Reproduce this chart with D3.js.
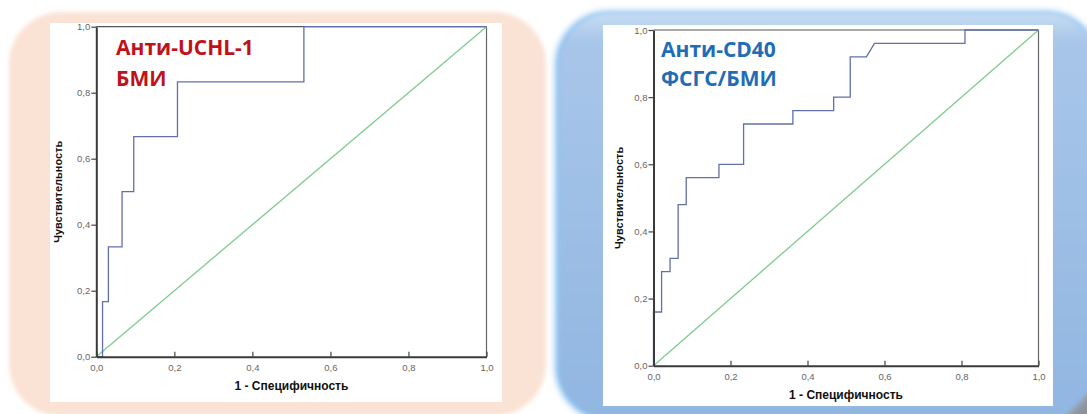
<!DOCTYPE html>
<html>
<head>
<meta charset="utf-8">
<script src="https://cdn.jsdelivr.net/npm/d3@7"></script>
<style>
  html, body { margin: 0; padding: 0; background: #ffffff; overflow: hidden; }
  svg { display: block; }
</style>
</head>
<body>
<svg id="chart" width="1087" height="414"></svg>
<script>
// Shared axis ticks and titles
const tickValues = [0, 0.2, 0.4, 0.6, 0.8, 1.0];
const tickLabels = ["0,0", "0,2", "0,4", "0,6", "0,8", "1,0"];
const xTitle = "1 - Специфичность";
const yTitle = "Чувствительность";

// ROC curve vertices: anti-UCHL-1, БМИ
const uchlTitle = ["Анти-UCHL-1", "БМИ"];
const uchlFpr = [0, 0.016, 0.016, 0.031, 0.031, 0.066, 0.066, 0.096, 0.096, 0.208, 0.208, 0.532, 0.532, 1];
const uchlTpr = [0, 0, 0.167, 0.167, 0.333, 0.333, 0.5, 0.5, 0.667, 0.667, 0.833, 0.833, 1, 1];

// ROC curve vertices: anti-CD40, ФСГС/БМИ
const cd40Title = ["Анти-CD40", "ФСГС/БМИ"];
const cd40Fpr = [0, 0, 0.021, 0.021, 0.043, 0.043, 0.064, 0.064, 0.085, 0.085, 0.170, 0.170, 0.234, 0.234,
                 0.362, 0.362, 0.468, 0.468, 0.511, 0.511, 0.553, 0.574, 0.809, 0.809, 1];
const cd40Tpr = [0, 0.16, 0.16, 0.28, 0.28, 0.32, 0.32, 0.48, 0.48, 0.56, 0.56, 0.60, 0.60, 0.72,
                 0.72, 0.76, 0.76, 0.80, 0.80, 0.92, 0.92, 0.96, 0.96, 1, 1];

// Reference (chance) diagonal
const chanceLine = [0, 1];

const svg = d3.select("#chart");
const defs = svg.append("defs");

defs.append("filter").attr("id", "soft").attr("x", "-10%").attr("y", "-10%").attr("width", "120%").attr("height", "120%")
  .append("feGaussianBlur").attr("stdDeviation", 2.2);
defs.append("filter").attr("id", "glow").attr("x", "-10%").attr("y", "-10%").attr("width", "120%").attr("height", "120%")
  .append("feGaussianBlur").attr("stdDeviation", 3);

const blueGrad = defs.append("linearGradient").attr("id", "blueFill")
  .attr("x1", 0).attr("y1", 0).attr("x2", 0).attr("y2", 1);
blueGrad.append("stop").attr("offset", "0%").attr("stop-color", "#c6dcf3");
blueGrad.append("stop").attr("offset", "7%").attr("stop-color", "#a8c6e9");
blueGrad.append("stop").attr("offset", "100%").attr("stop-color", "#91b6e1");

const shadowGrad = defs.append("linearGradient").attr("id", "shadowFill")
  .attr("x1", 0).attr("y1", 0).attr("x2", 1).attr("y2", 1);
shadowGrad.append("stop").attr("offset", "0%").attr("stop-color", "#a9b2bf");
shadowGrad.append("stop").attr("offset", "100%").attr("stop-color", "#7d8089");

// Backdrop panels
svg.append("rect")
  .attr("x", 9).attr("y", 12).attr("width", 537).attr("height", 404).attr("rx", 52)
  .attr("fill", "#fae2d4").attr("filter", "url(#soft)");

svg.append("rect")
  .attr("x", 555).attr("y", 11).attr("width", 545).attr("height", 410).attr("rx", 54)
  .attr("fill", "#8cc3f1").attr("filter", "url(#glow)");
svg.append("rect")
  .attr("x", 559).attr("y", 13).attr("width", 539).attr("height", 406).attr("rx", 52)
  .attr("fill", "url(#blueFill)").attr("filter", "url(#soft)");

// Grey page shadow in the lower right corner
svg.append("path")
  .attr("d", "M1058,420 Q1078,408 1092,388 L1098,425 Z")
  .attr("fill", "url(#shadowFill)").attr("filter", "url(#soft)");

const panels = [
  { title: uchlTitle, fpr: uchlFpr, tpr: uchlTpr, color: "#c0121a",
    box: [50, 23, 502, 402], x: [96.3, 486.5], y: [356.7, 26.7],
    titleX: 116, titleY: [55, 86], xTitleY: 390, yTitleX: 62 },
  { title: cd40Title, fpr: cd40Fpr, tpr: cd40Tpr, color: "#1f6db6",
    box: [603, 25, 1053, 406], x: [653.5, 1038.5], y: [365.7, 30],
    titleX: 661, titleY: [57, 86], xTitleY: 399, yTitleX: 623 }
];

panels.forEach(p => {
  svg.append("rect")
    .attr("x", p.box[0]).attr("y", p.box[1])
    .attr("width", p.box[2] - p.box[0]).attr("height", p.box[3] - p.box[1])
    .attr("fill", "#ffffff");

  const x = d3.scaleLinear().domain([0, 1]).range(p.x);
  const y = d3.scaleLinear().domain([0, 1]).range(p.y);
  const g = svg.append("g");

  // Frame: top and right
  g.append("line").attr("x1", x(0)).attr("x2", x(1)).attr("y1", y(1)).attr("y2", y(1))
    .attr("stroke", "#555").attr("stroke-width", 1.2);
  g.append("line").attr("x1", x(1)).attr("x2", x(1)).attr("y1", y(0)).attr("y2", y(1))
    .attr("stroke", "#666").attr("stroke-width", 1.2);

  // Chance diagonal
  const line = d3.line().x(d => x(d[0])).y(d => y(d[1]));
  g.append("path")
    .attr("d", line(chanceLine.map(v => [v, v])))
    .attr("fill", "none").attr("stroke", "#7fcb8e").attr("stroke-width", 1.3);

  // ROC curve
  g.append("path")
    .attr("d", line(p.fpr.map((f, i) => [f, p.tpr[i]])))
    .attr("fill", "none").attr("stroke", "#6270aa").attr("stroke-width", 1.3);

  const fmt = (d, i) => tickLabels[i];
  const xAxis = g.append("g").attr("transform", `translate(0,${y(0)})`)
    .call(d3.axisBottom(x).tickValues(tickValues).tickFormat(fmt).tickSize(5).tickSizeOuter(0).tickPadding(3));
  const yAxis = g.append("g").attr("transform", `translate(${x(0)},0)`)
    .call(d3.axisLeft(y).tickValues(tickValues).tickFormat(fmt).tickSize(5).tickSizeOuter(0).tickPadding(1));
  [xAxis, yAxis].forEach(a => {
    a.select(".domain").attr("stroke", "#3a3a3a").attr("stroke-width", 2);
    a.selectAll(".tick line").attr("stroke", "#444").attr("stroke-width", 1.2);
    a.selectAll(".tick text").attr("fill", "#666").attr("font-family", "Liberation Sans, Arial, sans-serif")
      .attr("font-size", 9.5);
  });
  xAxis.selectAll(".tick line").attr("y1", -5).attr("y2", 0);

  // Axis titles
  g.append("text")
    .attr("x", (p.x[0] + p.x[1]) / 2).attr("y", p.xTitleY)
    .attr("text-anchor", "middle")
    .attr("font-family", "Liberation Sans, Arial, sans-serif").attr("font-weight", "bold")
    .attr("font-size", 12).attr("fill", "#111").text(xTitle);
  g.append("text")
    .attr("transform", `translate(${p.yTitleX},${(p.y[0] + p.y[1]) / 2}) rotate(-90)`)
    .attr("text-anchor", "middle")
    .attr("font-family", "Liberation Sans, Arial, sans-serif").attr("font-weight", "bold")
    .attr("font-size", 11).attr("fill", "#111").text(yTitle);

  // Panel caption
  p.title.forEach((t, i) => {
    g.append("text")
      .attr("x", p.titleX).attr("y", p.titleY[i])
      .attr("font-family", "Open Sans, sans-serif").attr("font-weight", "bold")
      .attr("font-size", 21).attr("fill", p.color).text(t);
  });
});
</script>
</body>
</html>
